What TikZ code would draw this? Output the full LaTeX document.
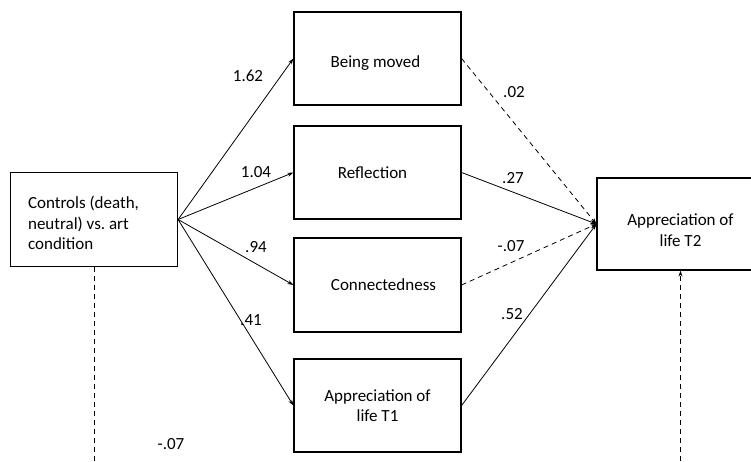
\documentclass[tikz,border=0pt]{standalone}
\usepackage{fontspec}
\setmainfont{Carlito}
\usetikzlibrary{arrows.meta}
\begin{document}
\frenchspacing
\begin{tikzpicture}[x=1pt,y=-1pt,
  box/.style={draw,line width=1.2pt,minimum width=167pt,minimum height=93pt,inner sep=0pt},
  txt/.style={font=\fontsize{17}{20.5}\selectfont,align=center,inner sep=0pt},
  conn/.style={line width=0.8pt,-{Stealth[length=6pt,width=4pt]}},
  dsh/.style={conn,dash pattern=on 5pt off 4pt},
  lbl/.style={font=\fontsize{17}{20}\selectfont,inner sep=0pt}]
\useasboundingbox (0,0) rectangle (751,461);
\begin{scope}
\clip (0,0) rectangle (751,461);
\node[box,minimum height=94pt,label={[txt,align=left,anchor=west,xshift=18pt,yshift=-3.5pt]west:Controls (death,\\neutral) vs. art\\condition}] (ctrl) at (94,219.5) {};
\node[box,label={[txt,yshift=-5pt,xshift=-2pt]center:Being moved}] (move) at (377.5,58.5) {};
\node[box,label={[txt,xshift=-5pt]center:Reflection}] (refl) at (377.5,172.5) {};
\node[box,minimum height=94pt,label={[txt,xshift=6pt,yshift=0pt]center:Connectedness}] (conn) at (377.5,285) {};
\node[box,label={[txt,yshift=0pt]center:Appreciation of\\life T1}] (t1) at (377.5,405.5) {};
\node[box,minimum height=92pt,label={[txt,yshift=-6pt]center:Appreciation of\\life T2}] (t2) at (680.5,224) {};

\coordinate (bl) at (ctrl.south |- 0,470);
\coordinate (br) at (t2.south |- 0,470);

\draw[conn] (ctrl.east) -- (move.west);
\draw[conn] (ctrl.east) -- (refl.west);
\draw[conn] (ctrl.east) -- (conn.west);
\draw[conn] (ctrl.east) -- (t1.west);

\draw[dsh] (move.east) -- (t2.west);
\draw[conn] (refl.east) -- (t2.west);
\draw[dsh] (conn.east) -- (t2.west);
\draw[conn] (t1.east) -- (t2.west);

\draw[line width=0.8pt,dash pattern=on 5pt off 4pt] (ctrl.south) -- (bl);
\draw[dsh] (br) -- (t2.south);
\end{scope}

\node[lbl] (l1) at (248,76) {1.62};
\node[lbl] (l2) at (256,172) {1.04};
\node[lbl] (l3) at (256,247) {.94};
\node[lbl] (l4) at (251,320) {.41};
\node[lbl] (l5) at (514,92) {.02};
\node[lbl] (l6) at (513,178) {.27};
\node[lbl] (l7) at (511,246) {-.07};
\node[lbl] (l8) at (512,314) {.52};
\node[lbl] (l9) at (171,444) {-.07};
\end{tikzpicture}
\end{document}
